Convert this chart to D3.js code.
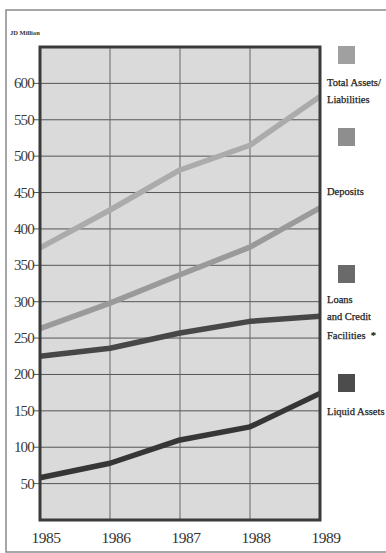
<!DOCTYPE html>
<html><head><meta charset="utf-8">
<script src="https://cdn.jsdelivr.net/npm/d3@7"></script>
<style>html,body{margin:0;padding:0;background:#fff;overflow:hidden}</style>
</head><body>
<script>
const years = [1985, 1986, 1987, 1988, 1989];
const totalAssets = [374, 426, 481, 515, 582];
const deposits = [263, 298, 337, 375, 429];
const loans = [225, 236, 257, 273, 280];
const liquidAssets = [58, 78, 110, 128, 174];
const yTicks = [50,100,150,200,250,300,350,400,450,500,550,600];
const seriesNames = [["Total Assets/","Liabilities"],["Deposits"],["Loans","and Credit","Facilities  *"],["Liquid Assets"]];
const lineColors = ["#ababab","#9a9a9a","#474747","#363636"];
const swatchColors = ["#a0a0a0","#8e8e8e","#6a6a6a","#4c4c4c"];
const unitLabel = "JD Million";

const W=386,H=553;
const svg=d3.select("body").append("svg").attr("width",W).attr("height",H);
const x=d3.scaleLinear().domain([1985,1989]).range([40,320]);
const y=d3.scaleLinear().domain([0,650]).range([520,47]);

// outer frame
svg.append("path").attr("d","M386,10 L6,10 L6,552 L386,552").attr("fill","none").attr("stroke","#8a8a8a").attr("stroke-width",1.5);

svg.append("text").attr("x",10).attr("y",35).attr("font-family","Liberation Serif").attr("font-size",6.5).attr("font-weight","bold").attr("fill","#333").text(unitLabel);

// plot bg
svg.append("rect").attr("x",x(1985)).attr("y",y(650)).attr("width",x(1989)-x(1985)).attr("height",y(0)-y(650)).attr("fill","#dadada");

// grid
svg.append("g").selectAll("line").data(yTicks).join("line")
 .attr("x1",x(1985)-6).attr("x2",x(1989)).attr("y1",d=>y(d)).attr("y2",d=>y(d)).attr("stroke","#555").attr("stroke-width",1);
svg.append("g").selectAll("line").data(years.slice(1,-1)).join("line")
 .attr("y1",y(0)).attr("y2",y(650)).attr("x1",d=>x(d)).attr("x2",d=>x(d)).attr("stroke","#666").attr("stroke-width",1);

// y labels
svg.append("g").selectAll("text").data(yTicks).join("text")
 .attr("x",34).attr("y",d=>y(d)+5).attr("text-anchor","end").attr("font-family","Liberation Serif").attr("font-size",15).attr("letter-spacing",-0.8).attr("fill","#3a3a3a").text(d=>d);
// x labels
svg.append("g").selectAll("text").data(years).join("text")
 .attr("x",d=>x(d)+6).attr("y",543).attr("text-anchor","middle").attr("font-family","Liberation Serif").attr("font-size",15.5).attr("letter-spacing",-0.5).attr("fill","#333").text(d=>d);

const line=d3.line().x((d,i)=>x(years[i])).y(d=>y(d)).curve(d3.curveLinear);
[totalAssets,deposits,loans,liquidAssets].forEach((s,i)=>{
 svg.append("path").attr("d",line(s)).attr("fill","none").attr("stroke",lineColors[i]).attr("stroke-width",5.5).attr("stroke-linejoin","round");
});

// border
svg.append("rect").attr("x",x(1985)).attr("y",y(650)).attr("width",x(1989)-x(1985)).attr("height",y(0)-y(650)).attr("fill","none").attr("stroke","#3a3a3a").attr("stroke-width",3);

// legend
const swY=[46,128,265,374];
const txY=[[86,103],[195],[303,320,339],[415]];
seriesNames.forEach((nm,i)=>{
 svg.append("rect").attr("x",338).attr("y",swY[i]).attr("width",17).attr("height",18).attr("fill",swatchColors[i]);
 nm.forEach((t,j)=>{
  svg.append("text").attr("x",327).attr("y",txY[i][j]).attr("font-family","Liberation Serif").attr("font-size",10.5).attr("fill","#222").attr("stroke","#222").attr("stroke-width",0.25).attr("xml:space","preserve").text(t);
 });
});
</script>
</body></html>
